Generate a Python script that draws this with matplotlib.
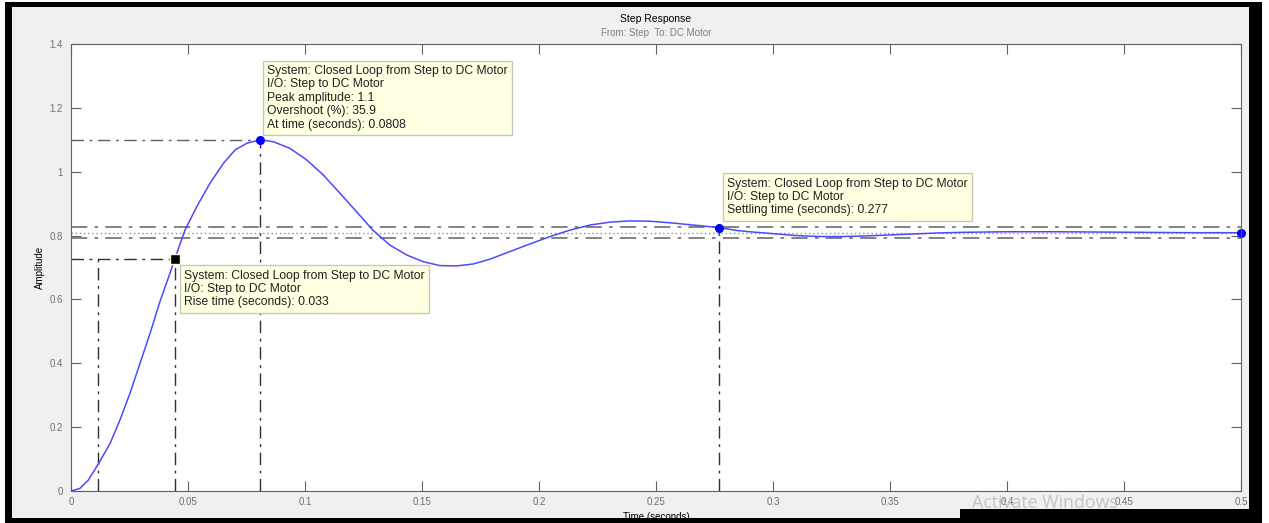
import matplotlib
matplotlib.use("Agg")
import matplotlib.pyplot as plt
from matplotlib.patches import Rectangle

# step response of the closed loop (time in s, amplitude)
t_vals = [0, 0.0038, 0.0074, 0.0117, 0.0167, 0.0209, 0.0252, 0.0295, 0.0338,
          0.038, 0.0423, 0.0444, 0.0487, 0.0537, 0.0594, 0.0651, 0.0701,
          0.0751, 0.0808, 0.0865, 0.0936, 0.1007, 0.1078, 0.115, 0.122,
          0.129, 0.1363, 0.1435, 0.1506, 0.1577, 0.1648, 0.1719, 0.179,
          0.1876, 0.1962, 0.2047, 0.2132, 0.2218, 0.2303, 0.2389, 0.2474,
          0.256, 0.2645, 0.277, 0.2845, 0.29, 0.30, 0.31, 0.32, 0.33, 0.34,
          0.35, 0.36, 0.37, 0.38, 0.39, 0.40, 0.42, 0.44, 0.46, 0.48, 0.50]
amp = [0, 0.008, 0.034, 0.085, 0.149, 0.222, 0.306, 0.400, 0.494,
       0.593, 0.682, 0.728, 0.817, 0.890, 0.964, 1.026, 1.068,
       1.089, 1.100, 1.094, 1.073, 1.037, 0.990, 0.932, 0.875,
       0.817, 0.770, 0.739, 0.718, 0.706, 0.705, 0.711, 0.726,
       0.750, 0.774, 0.797, 0.817, 0.833, 0.842, 0.846, 0.845,
       0.840, 0.834, 0.825, 0.816, 0.812, 0.806, 0.800, 0.797, 0.797, 0.799,
       0.802, 0.805, 0.808, 0.810, 0.811, 0.812, 0.812, 0.811, 0.810, 0.809, 0.809]

# characteristics
final_val = 0.8094
peak_amp = 1.1
overshoot = 35.9
peak_t = 0.0808
rise_lo = 0.0115
rise_time = 0.033
rise_amp = 0.728
settle_t = 0.277
settle_amp = 0.825
settle_band = [0.98 * final_val, 1.02 * final_val]

x_ticks = [0, 0.05, 0.1, 0.15, 0.2, 0.25, 0.3, 0.35, 0.4, 0.45, 0.5]
x_labels = ["0", "0.05", "0.1", "0.15", "0.2", "0.25", "0.3", "0.35", "0.4", "0.45", "0.5"]
y_ticks = [0, 0.2, 0.4, 0.6, 0.8, 1.0, 1.2, 1.4]
y_labels = ["0", "0.2", "0.4", "0.6", "0.8", "1", "1.2", "1.4"]

plt.rcParams['font.family'] = ['Liberation Sans', 'DejaVu Sans']

W, H = 1269, 523
fig = plt.figure(figsize=(W / 100, H / 100), dpi=100, facecolor='white')

# window frame
fig.patches.append(Rectangle((5 / W, 0), 1257 / W, 521 / H, transform=fig.transFigure,
                             facecolor='black', edgecolor='none', zorder=-3))
fig.patches.append(Rectangle((12 / W, 5 / H), 1237 / W, 511 / H, transform=fig.transFigure,
                             facecolor='#f0f0f0', edgecolor='none', zorder=-2))
fig.patches.append(Rectangle((960 / W, 0), 302 / W, 14 / H, transform=fig.transFigure,
                             facecolor='black', edgecolor='none', zorder=-1))

ax = fig.add_axes([71 / W, (H - 491) / H, 1170 / W, 447 / H])
ax.set_facecolor('white')

dashdot = (0, (9, 4, 2, 4))
grey = '#7a7a7a'
dark = '#303030'

# peak response guides
ax.plot([0, peak_t], [peak_amp, peak_amp], color='#606060', lw=1, linestyle=dashdot)
ax.plot([peak_t, peak_t], [0, peak_amp], color=dark, lw=1, linestyle=dashdot)

# rise time guides
rise_hi = rise_lo + rise_time
ax.plot([0, rise_hi], [rise_amp, rise_amp], color=dark, lw=1, linestyle=dashdot)
ax.plot([rise_lo, rise_lo], [0, rise_amp], color=dark, lw=1, linestyle=dashdot)
ax.plot([rise_hi, rise_hi], [0, rise_amp], color=dark, lw=1, linestyle=dashdot)

# settling band and final value
for yv in settle_band:
    ax.axhline(yv, color=grey, lw=1.3, linestyle=dashdot)
ax.axhline(final_val, color='#909090', lw=1, linestyle=(0, (1, 2)))
ax.plot([settle_t, settle_t], [0, settle_amp], color=dark, lw=1, linestyle=dashdot)

ax.plot(t_vals, amp, color='#4a4aff', lw=1.1)

ax.plot([peak_t], [peak_amp], 'o', color='#0000ff', ms=5.5)
ax.plot([settle_t], [settle_amp], 'o', color='#0000ff', ms=5.5)
ax.plot([t_vals[-1]], [amp[-1]], 'o', color='#0000ff', ms=5.5, clip_on=False)
ax.plot([rise_hi], [rise_amp], 's', color='black', mec='#fffbe0', mew=1, ms=6.5)

box = dict(boxstyle='square,pad=0.35', facecolor='#ffffe1', edgecolor='#c8c8b8', lw=1)
tip_kw = dict(textcoords='offset pixels', ha='left', va='top', fontsize=8.7,
              linespacing=1.16, bbox=box, color='#202020')

ax.annotate("System: Closed Loop from Step to DC Motor\nI/O: Step to DC Motor\n"
            f"Peak amplitude: {peak_amp}\nOvershoot (%): {overshoot}\n"
            f"At time (seconds): {peak_t}",
            xy=(peak_t, peak_amp), xytext=(7, 75), **tip_kw)
ax.annotate("System: Closed Loop from Step to DC Motor\nI/O: Step to DC Motor\n"
            f"Rise time (seconds): {rise_time}",
            xy=(rise_hi, rise_amp), xytext=(9, -11), **tip_kw)
ax.annotate("System: Closed Loop from Step to DC Motor\nI/O: Step to DC Motor\n"
            f"Settling time (seconds): {settle_t}",
            xy=(settle_t, settle_amp), xytext=(8, 50), **tip_kw)

ax.set_xlim(0, 0.5)
ax.set_ylim(0, 1.4)
ax.set_xticks(x_ticks)
ax.set_xticklabels(x_labels)
ax.set_yticks(y_ticks)
ax.set_yticklabels(y_labels)
ax.tick_params(direction='in', length=7.5, width=0.8, color='#606060',
               labelcolor='#707070', labelsize=7, top=True, right=True)
ax.tick_params(axis='x', pad=4)
ax.tick_params(axis='y', pad=6)
for sp in ax.spines.values():
    sp.set_color('#606060')
    sp.set_linewidth(0.8)

ax.set_xlabel("Time (seconds)", fontsize=7, labelpad=4)
ax.set_ylabel("Amplitude", fontsize=7, labelpad=3)

fig.text(656 / W, 1 - 19 / H, "Step Response", ha='center', va='center', fontsize=7.5)
fig.text(656 / W, 1 - 33 / H, "From: Step  To: DC Motor", ha='center', va='center',
         fontsize=7, color='#808080')
fig.text(972 / W, 1 - 503 / H, "Activate Windows", ha='left', va='center',
         fontsize=12.8, color='#c4c4c4', family=['Open Sans', 'DejaVu Sans'])

fig.savefig("out.png", dpi=100)
